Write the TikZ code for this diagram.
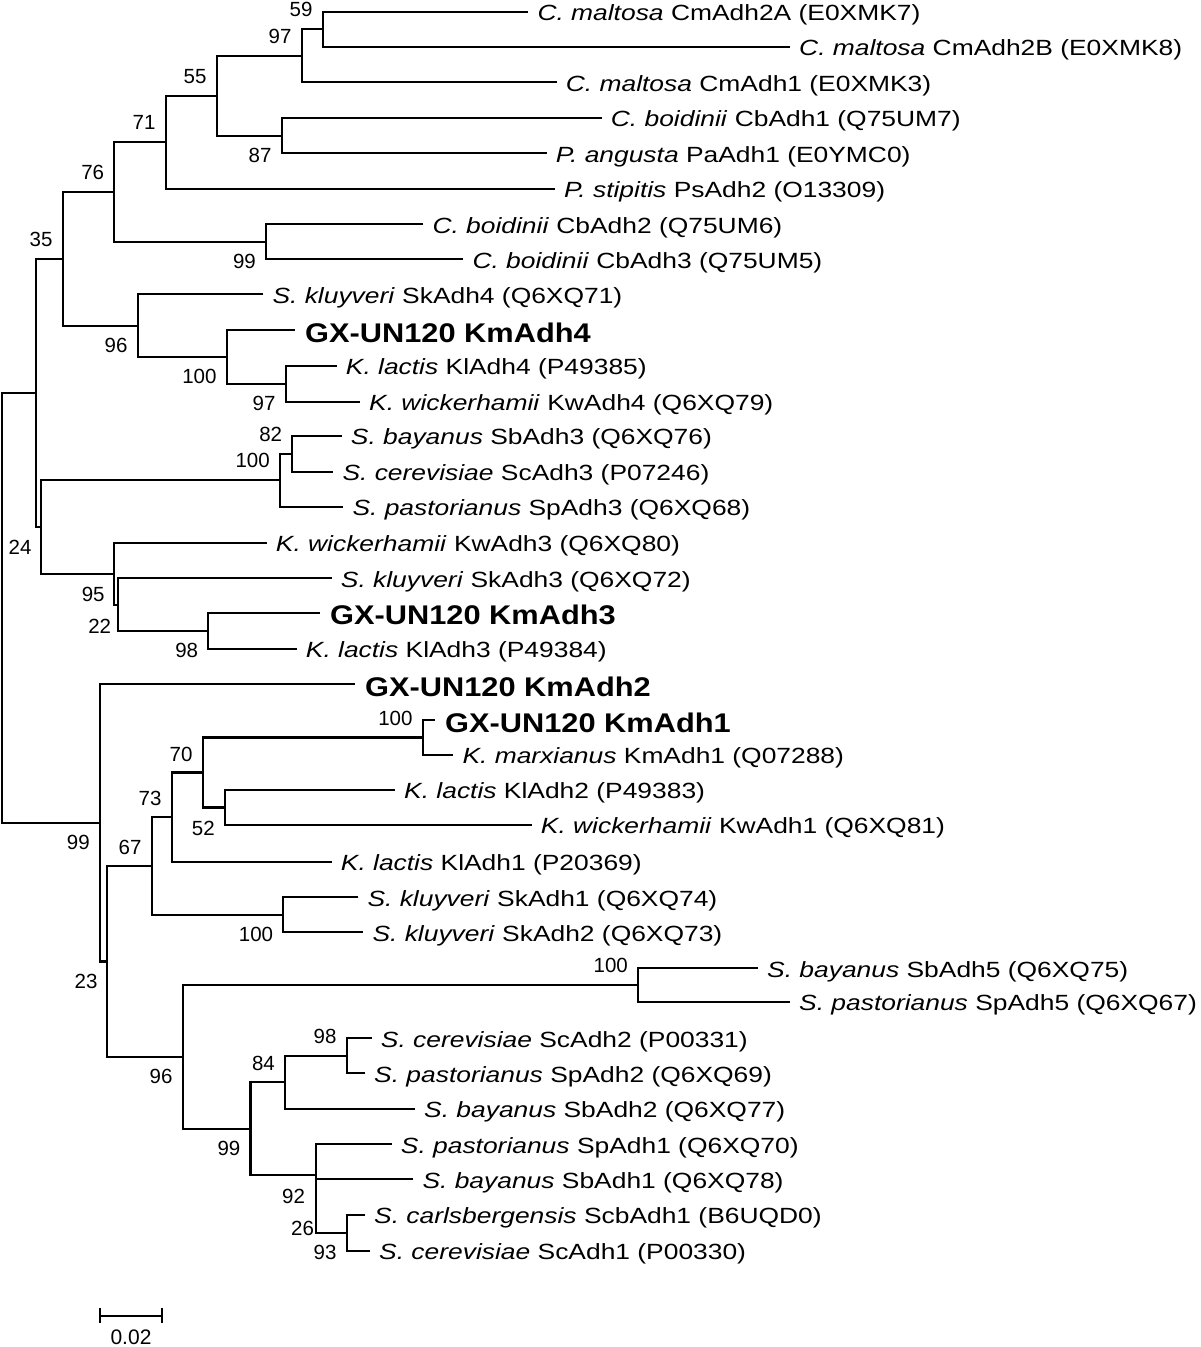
\documentclass[tikz,border=0pt]{standalone}
\usepackage{fontspec}
\setmainfont{Liberation Sans}
\newfontfamily\leaffont[FakeStretch=1.2]{Liberation Sans}
\newfontfamily\gxfont[FakeStretch=1.14]{Liberation Sans}
\begin{document}
\begin{tikzpicture}[x=1pt,y=-1pt,
  branch/.style={line width=2.1pt, line join=miter},
  leaf/.style={anchor=base west, inner sep=0pt, font=\leaffont\fontsize{22}{26}\selectfont},
  gxleaf/.style={anchor=base west, inner sep=0pt, font=\gxfont\bfseries\fontsize{27}{32}\selectfont},
  bs/.style={anchor=east, inner sep=0pt, font=\fontsize{20.5}{24}\selectfont}]
\useasboundingbox[fill=white] (0,0) rectangle (1200,1347);
% leaf ends
\coordinate (l1) at (528.3,11.7);
\coordinate (l2) at (790,47);
\coordinate (l3) at (556.7,82.3);
\coordinate (l4) at (601.7,118);
\coordinate (l5) at (546.7,153.3);
\coordinate (l6) at (555,188.7);
\coordinate (l7) at (423.3,224.3);
\coordinate (l8) at (463.3,259.3);
\coordinate (l9) at (263.3,294.3);
\coordinate (l10) at (295,330.3);
\coordinate (l11) at (336.7,365.7);
\coordinate (l12) at (360,401.7);
\coordinate (l13) at (341.7,435.7);
\coordinate (l14) at (333.3,471.7);
\coordinate (l15) at (343.3,506.7);
\coordinate (l16) at (266.7,542.7);
\coordinate (l17) at (331.7,578.3);
\coordinate (l18) at (320,612.7);
\coordinate (l19) at (296.7,649);
\coordinate (l20) at (355,684);
\coordinate (l21) at (435,720);
\coordinate (l22) at (453.3,755);
\coordinate (l23) at (395,790);
\coordinate (l24) at (531.7,825);
\coordinate (l25) at (331.7,861.7);
\coordinate (l26) at (358.3,897.3);
\coordinate (l27) at (363.3,932.3);
\coordinate (l28) at (758,968.3);
\coordinate (l29) at (790,1001.7);
\coordinate (l30) at (371.7,1038.3);
\coordinate (l31) at (365,1073.3);
\coordinate (l32) at (415,1109);
\coordinate (l33) at (391.7,1144.3);
\coordinate (l34) at (413.3,1179.3);
\coordinate (l35) at (365,1215);
\coordinate (l36) at (370,1250.7);
% internal nodes
\coordinate (n59) at (322.7,29.35);
\coordinate (n97a) at (301.7,55.8);
\coordinate (n87) at (281.7,135.65);
\coordinate (n55) at (216.7,95.7);
\coordinate (n71) at (165.7,142.2);
\coordinate (n99a) at (266,241.8);
\coordinate (n76) at (114.3,192);
\coordinate (n97b) at (285.7,383.7);
\coordinate (n100a) at (226.7,357);
\coordinate (n96a) at (137.7,325.65);
\coordinate (n35) at (62.7,258.8);
\coordinate (n82) at (292.3,453.7);
\coordinate (n100b) at (280,480.2);
\coordinate (n98a) at (208.3,630.85);
\coordinate (n22) at (118.3,604.6);
\coordinate (n95) at (114.3,573.65);
\coordinate (n24) at (40.7,526.9);
\coordinate (nA) at (35.7,392.85);
\coordinate (n100c) at (422.7,737.5);
\coordinate (n52) at (225,807.5);
\coordinate (n70) at (202.7,772.5);
\coordinate (n73) at (171.7,817.1);
\coordinate (n100d) at (283.3,914.8);
\coordinate (n67) at (151.7,866);
\coordinate (n100e) at (638,985);
\coordinate (n98b) at (346.7,1055.8);
\coordinate (n84) at (285,1082.4);
\coordinate (n93) at (346.7,1232.85);
\coordinate (n26) at (315.7,1206.1);
\coordinate (n92) at (315.7,1175.2);
\coordinate (n99c) at (250.5,1128.8);
\coordinate (n96b) at (182.7,1056.9);
\coordinate (n23) at (106.7,961.45);
\coordinate (n99b) at (100,822.7);
\coordinate (root) at (1.7,607.8);
% branches
\draw[branch] (l1) -| (n59) |- (l2);
\draw[branch] (n59) -| (n97a) |- (l3);
\draw[branch] (l4) -| (n87) |- (l5);
\draw[branch] (n97a) -| (n55) |- (n87);
\draw[branch] (n55) -| (n71) |- (l6);
\draw[branch] (l7) -| (n99a) |- (l8);
\draw[branch] (n71) -| (n76) |- (n99a);
\draw[branch] (l11) -| (n97b) |- (l12);
\draw[branch] (l10) -| (n100a) |- (n97b);
\draw[branch] (l9) -| (n96a) |- (n100a);
\draw[branch] (n76) -| (n35) |- (n96a);
\draw[branch] (l13) -| (n82) |- (l14);
\draw[branch] (n82) -| (n100b) |- (l15);
\draw[branch] (l18) -| (n98a) |- (l19);
\draw[branch] (l17) -| (n22) |- (n98a);
\draw[branch] (l16) -| (n95) |- (n22);
\draw[branch] (n100b) -| (n24) |- (n95);
\draw[branch] (n35) -| (nA) |- (n24);
\draw[branch] (l21) -| (n100c) |- (l22);
\draw[branch] (l23) -| (n52) |- (l24);
\draw[branch] (n100c) -| (n70) |- (n52);
\draw[branch] (n70) -| (n73) |- (l25);
\draw[branch] (l26) -| (n100d) |- (l27);
\draw[branch] (n73) -| (n67) |- (n100d);
\draw[branch] (l28) -| (n100e) |- (l29);
\draw[branch] (l30) -| (n98b) |- (l31);
\draw[branch] (n98b) -| (n84) |- (l32);
\draw[branch] (l35) -| (n93) |- (l36);
\draw[branch] (l34) -| (n26) |- (n93);
\draw[branch] (l33) -| (n92) |- (n26);
\draw[branch] (n84) -| (n99c) |- (n92);
\draw[branch] (n100e) -| (n96b) |- (n99c);
\draw[branch] (n67) -| (n23) |- (n96b);
\draw[branch] (l20) -| (n99b) |- (n23);
\draw[branch] (nA) -| (root) |- (n99b);
% leaf labels
\node[leaf] (t1) at ([xshift=9pt,yshift=-8.7pt]l1) {\textit{C. maltosa} CmAdh2A (E0XMK7)};
\node[leaf] (t2) at ([xshift=9pt,yshift=-8.7pt]l2) {\textit{C. maltosa} CmAdh2B (E0XMK8)};
\node[leaf] (t3) at ([xshift=9pt,yshift=-8.7pt]l3) {\textit{C. maltosa} CmAdh1 (E0XMK3)};
\node[leaf] (t4) at ([xshift=9pt,yshift=-8.7pt]l4) {\textit{C. boidinii} CbAdh1 (Q75UM7)};
\node[leaf] (t5) at ([xshift=9pt,yshift=-8.7pt]l5) {\textit{P. angusta} PaAdh1 (E0YMC0)};
\node[leaf] (t6) at ([xshift=9pt,yshift=-8.7pt]l6) {\textit{P. stipitis} PsAdh2 (O13309)};
\node[leaf] (t7) at ([xshift=9pt,yshift=-8.7pt]l7) {\textit{C. boidinii} CbAdh2 (Q75UM6)};
\node[leaf] (t8) at ([xshift=9pt,yshift=-8.7pt]l8) {\textit{C. boidinii} CbAdh3 (Q75UM5)};
\node[leaf] (t9) at ([xshift=9pt,yshift=-8.7pt]l9) {\textit{S. kluyveri} SkAdh4 (Q6XQ71)};
\node[gxleaf] (t10) at ([xshift=10pt,yshift=-12pt]l10) {GX-UN120 KmAdh4};
\node[leaf] (t11) at ([xshift=9pt,yshift=-8.7pt]l11) {\textit{K. lactis} KlAdh4 (P49385)};
\node[leaf] (t12) at ([xshift=9pt,yshift=-8.7pt]l12) {\textit{K. wickerhamii} KwAdh4 (Q6XQ79)};
\node[leaf] (t13) at ([xshift=9pt,yshift=-8.7pt]l13) {\textit{S. bayanus} SbAdh3 (Q6XQ76)};
\node[leaf] (t14) at ([xshift=9pt,yshift=-8.7pt]l14) {\textit{S. cerevisiae} ScAdh3 (P07246)};
\node[leaf] (t15) at ([xshift=9pt,yshift=-8.7pt]l15) {\textit{S. pastorianus} SpAdh3 (Q6XQ68)};
\node[leaf] (t16) at ([xshift=9pt,yshift=-8.7pt]l16) {\textit{K. wickerhamii} KwAdh3 (Q6XQ80)};
\node[leaf] (t17) at ([xshift=9pt,yshift=-8.7pt]l17) {\textit{S. kluyveri} SkAdh3 (Q6XQ72)};
\node[gxleaf] (t18) at ([xshift=10pt,yshift=-12pt]l18) {GX-UN120 KmAdh3};
\node[leaf] (t19) at ([xshift=9pt,yshift=-8.7pt]l19) {\textit{K. lactis} KlAdh3 (P49384)};
\node[gxleaf] (t20) at ([xshift=10pt,yshift=-12pt]l20) {GX-UN120 KmAdh2};
\node[gxleaf] (t21) at ([xshift=10pt,yshift=-12pt]l21) {GX-UN120 KmAdh1};
\node[leaf] (t22) at ([xshift=9pt,yshift=-8.7pt]l22) {\textit{K. marxianus} KmAdh1 (Q07288)};
\node[leaf] (t23) at ([xshift=9pt,yshift=-8.7pt]l23) {\textit{K. lactis} KlAdh2 (P49383)};
\node[leaf] (t24) at ([xshift=9pt,yshift=-8.7pt]l24) {\textit{K. wickerhamii} KwAdh1 (Q6XQ81)};
\node[leaf] (t25) at ([xshift=9pt,yshift=-8.7pt]l25) {\textit{K. lactis} KlAdh1 (P20369)};
\node[leaf] (t26) at ([xshift=9pt,yshift=-8.7pt]l26) {\textit{S. kluyveri} SkAdh1 (Q6XQ74)};
\node[leaf] (t27) at ([xshift=9pt,yshift=-8.7pt]l27) {\textit{S. kluyveri} SkAdh2 (Q6XQ73)};
\node[leaf] (t28) at ([xshift=9pt,yshift=-8.7pt]l28) {\textit{S. bayanus} SbAdh5 (Q6XQ75)};
\node[leaf] (t29) at ([xshift=9pt,yshift=-8.7pt]l29) {\textit{S. pastorianus} SpAdh5 (Q6XQ67)};
\node[leaf] (t30) at ([xshift=9pt,yshift=-8.7pt]l30) {\textit{S. cerevisiae} ScAdh2 (P00331)};
\node[leaf] (t31) at ([xshift=9pt,yshift=-8.7pt]l31) {\textit{S. pastorianus} SpAdh2 (Q6XQ69)};
\node[leaf] (t32) at ([xshift=9pt,yshift=-8.7pt]l32) {\textit{S. bayanus} SbAdh2 (Q6XQ77)};
\node[leaf] (t33) at ([xshift=9pt,yshift=-8.7pt]l33) {\textit{S. pastorianus} SpAdh1 (Q6XQ70)};
\node[leaf] (t34) at ([xshift=9pt,yshift=-8.7pt]l34) {\textit{S. bayanus} SbAdh1 (Q6XQ78)};
\node[leaf] (t35) at ([xshift=9pt,yshift=-8.7pt]l35) {\textit{S. carlsbergensis} ScbAdh1 (B6UQD0)};
\node[leaf] (t36) at ([xshift=9pt,yshift=-8.7pt]l36) {\textit{S. cerevisiae} ScAdh1 (P00330)};
% bootstrap values (above: yshift +, below: yshift -)
\node[bs] (b59) at ([xshift=-10pt,yshift=19.5pt]n59) {59};
\node[bs] (b97a) at ([xshift=-10pt,yshift=19.5pt]n97a) {97};
\node[bs] (b55) at ([xshift=-10pt,yshift=19.5pt]n55) {55};
\node[bs] (b87) at ([xshift=-10pt,yshift=-19.5pt]n87) {87};
\node[bs] (b71) at ([xshift=-10pt,yshift=19.5pt]n71) {71};
\node[bs] (b76) at ([xshift=-10pt,yshift=19.5pt]n76) {76};
\node[bs] (b99a) at ([xshift=-10pt,yshift=-19.5pt]n99a) {99};
\node[bs] (b35) at ([xshift=-10pt,yshift=19.5pt]n35) {35};
\node[bs] (b96a) at ([xshift=-10pt,yshift=-19.5pt]n96a) {96};
\node[bs] (b100a) at ([xshift=-10pt,yshift=-19.5pt]n100a) {100};
\node[bs] (b97b) at ([xshift=-10pt,yshift=-19.5pt]n97b) {97};
\node[bs] (b82) at ([xshift=-10pt,yshift=19.5pt]n82) {82};
\node[bs] (b100b) at ([xshift=-10pt,yshift=19.5pt]n100b) {100};
\node[bs] (b24) at ([xshift=-9pt,yshift=-20.5pt]n24) {24};
\node[bs] (b95) at ([xshift=-9.5pt,yshift=-21pt]n95) {95};
\node[bs] (b22) at ([xshift=-7pt,yshift=-22pt]n22) {22};
\node[bs] (b98a) at ([xshift=-10pt,yshift=-20pt]n98a) {98};
\node[bs] (b100c) at ([xshift=-10pt,yshift=19.5pt]n100c) {100};
\node[bs] (b70) at ([xshift=-10pt,yshift=18.5pt]n70) {70};
\node[bs] (b73) at ([xshift=-10pt,yshift=19pt]n73) {73};
\node[bs] (b52) at ([xshift=-10pt,yshift=-20.5pt]n52) {52};
\node[bs] (b99b) at ([xshift=-10pt,yshift=-19.5pt]n99b) {99};
\node[bs] (b67) at ([xshift=-10pt,yshift=18.5pt]n67) {67};
\node[bs] (b100d) at ([xshift=-10pt,yshift=-20pt]n100d) {100};
\node[bs] (b23) at ([xshift=-9pt,yshift=-20pt]n23) {23};
\node[bs] (b100e) at ([xshift=-10pt,yshift=19.5pt]n100e) {100};
\node[bs] (b98b) at ([xshift=-10pt,yshift=19.5pt]n98b) {98};
\node[bs] (b84) at ([xshift=-10pt,yshift=18.5pt]n84) {84};
\node[bs] (b96b) at ([xshift=-10pt,yshift=-19.8pt]n96b) {96};
\node[bs] (b99c) at ([xshift=-10pt,yshift=-19.5pt]n99c) {99};
\node[bs] (b92) at ([xshift=-10.5pt,yshift=-21.5pt]n92) {92};
\node[bs] (b26) at ([xshift=-1.5pt,yshift=-22.5pt]n26) {26};
\node[bs] (b93) at ([xshift=-10pt,yshift=-19.5pt]n93) {93};
% scale bar
\coordinate (sb1) at (100,1315.7);
\coordinate (sb2) at (161.7,1315.7);
\draw[branch] (sb1) -- (sb2);
\draw[branch] ([yshift=7.5pt]sb1) -- ([yshift=-7.5pt]sb1);
\draw[branch] ([yshift=7.5pt]sb2) -- ([yshift=-7.5pt]sb2);
\node[inner sep=0pt, font=\fontsize{21}{25}\selectfont] (sbl) at (131,1337) {0.02};
\end{tikzpicture}
\end{document}
